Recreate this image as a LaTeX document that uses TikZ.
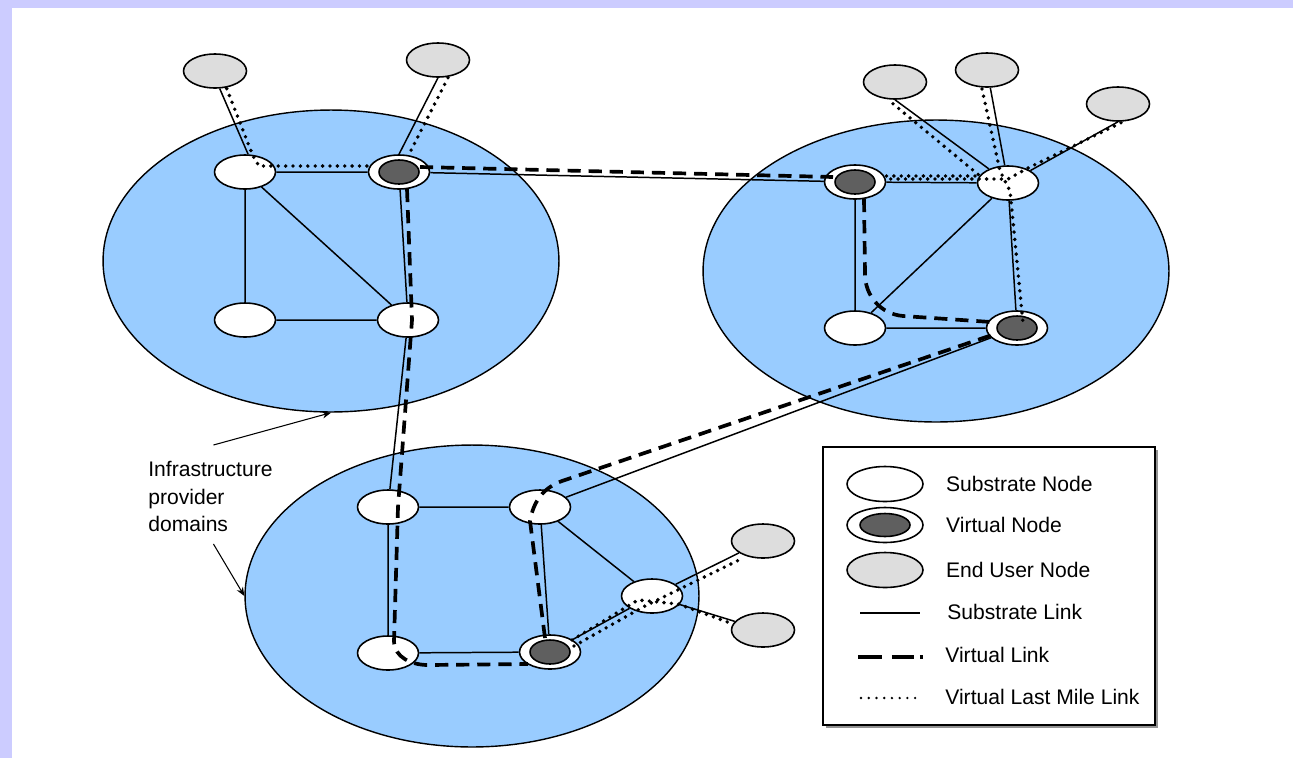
\documentclass[tikz,border=0pt]{standalone}
\usepackage{fontspec}
\setmainfont{Liberation Sans}
\usetikzlibrary{arrows.meta,calc,positioning,shapes.geometric}
\definecolor{provblue}{HTML}{99CCFF}
\definecolor{userfill}{HTML}{DDDDDD}
\definecolor{vdark}{HTML}{5F5F5F}
\definecolor{lavender}{HTML}{CCCCFF}

\begin{document}
\begin{tikzpicture}[x=0.02cm,y=-0.02cm,
  provider/.style={ellipse,draw,fill=provblue,line width=0.8pt,inner sep=0pt,minimum height=6.04cm},
  sub/.style={ellipse,draw,fill=white,line width=0.9pt,inner sep=0pt,minimum width=1.22cm,minimum height=0.68cm},
  virt/.style={sub,path picture={\filldraw[fill=vdark,line width=0.9pt] (path picture bounding box.center) ellipse [x radius=0.4cm,y radius=0.24cm];}},
  lvirt/.style={sub,minimum width=1.52cm,minimum height=0.7cm,path picture={\filldraw[fill=vdark,line width=0.9pt] (path picture bounding box.center) ellipse [x radius=0.5cm,y radius=0.23cm];}},
  user/.style={sub,fill=userfill,minimum width=1.26cm},
  slink/.style={line width=0.85pt},
  vlink/.style={line width=2.1pt,dash pattern=on 7.5pt off 4.5pt},
  lastmile/.style={line width=2.2pt,line cap=round,dash pattern=on 0pt off 4.2pt},
  pointer/.style={line width=0.6pt,-{Stealth[length=5pt,width=4pt]}},
  txt/.style={font=\fontsize{12pt}{15.6pt}\selectfont,inner sep=0pt}]

\useasboundingbox (0,0) rectangle (1293,758);
\fill[white] (0,0) rectangle (1293,758);
\fill[lavender] (0,0) rectangle (1293,8);
\fill[lavender] (0,0) rectangle (12,758);

% provider domains
\node[provider,minimum width=9.12cm] (D1) at (331,261) {};
\node[provider,minimum width=9.32cm] (D2) at (936,271) {};
\node[provider,minimum width=9.08cm] (D3) at (472,596) {};

% nodes
\node[sub]  (A1) at (245,172) {};
\node[virt] (A2) at (399,172) {};
\node[sub]  (A3) at (245,320) {};
\node[sub]  (A4) at (408,320) {};
\node[user] (E1) at (215,71) {};
\node[user] (E2) at (438,60) {};

\node[virt] (B1) at (855,182) {};
\node[sub]  (B2) at (1008,183) {};
\node[sub]  (B3) at (855,328) {};
\node[virt] (B4) at (1017,328) {};
\node[user] (E3) at (895,82) {};
\node[user] (E4) at (987,70) {};
\node[user] (E5) at (1118,104) {};

\node[sub]  (C1) at (388,507) {};
\node[sub]  (C2) at (540,507) {};
\node[sub]  (C3) at (388,653) {};
\node[virt] (C4) at (550,652) {};
\node[sub]  (C5) at (652,596) {};
\node[user] (E6) at (763,541) {};
\node[user] (E7) at (763,630) {};

% substrate links
\draw[slink] (A1) -- (A2) (A1) -- (A3) (A1) -- (A4) (A3) -- (A4) (A2) -- (A4);
\draw[slink] (E1.-75) -- (A1.80) (E2.south) -- (A2.north);
\draw[slink] (A2) -- (B1) (A4) -- (C1) (B4) -- (C2);
\draw[slink] (B1) -- (B2) (B1) -- (B3) (B2) -- (B3) (B2) -- (B4) (B3) -- (B4);
\draw[slink] (E3.south) -- (B2) (E4) -- (B2) (E5.south) -- (B2);
\draw[slink] (C1) -- (C2) (C1) -- (C3) (C2) -- (C4) (C3) -- (C4) (C2) -- (C5) (C4) -- (C5);
\draw[slink] (C5) -- (E6) (C5) -- (E7);

% virtual links
\draw[vlink] ($(A2)+(21,-5)$) -- ($(B1)+(-22,-5)$);
\draw[vlink] ($(A2)+(8,17)$) -- ($(A4)+(4,0)$) -- ($(C1)+(10,0)$) -- ($(C3)+(6,-12)$)
  to[out=-90,in=180] ($(C3)+(40,12)$) -- ($(C4)+(-22,12)$);
\draw[vlink] ($(C4)+(-5,-14)$) -- ($(C2)+(-10,14)$) to[out=80,in=200] ($(C2)+(22,-26)$) -- ($(B4)+(-22,6)$);
\draw[vlink] ($(B1)+(9,17)$) -- ($(B1)+(10,92)$) to[out=-90,in=175] ($(B3)+(48,-12)$) -- ($(B4)+(-26,-6)$);

% virtual last mile links
\draw[lastmile] ($(E1.-75)+(7,0)$) -- ($(A1.80)+(5,2)$) -- ($(A1)+(14,-6)$) -- ($(A2)+(-28,-6)$);
\draw[lastmile] ($(E2.south)+(10,0)$) -- ($(A2.north)+(10,0)$);
\draw[lastmile] ($(E3.south)+(-2,4)$) -- ($(B2)+(-28,-7)$) -- ($(B1)+(30,-6)$);
\draw[lastmile] ($(E4)+(-5,19)$) -- ($(B2)+(-8,-12)$) -- ($(B2)+(2,8)$) -- ($(B4)+(6,-5)$);
\draw[lastmile] ($(E5.south)+(3,1)$) -- ($(B2)+(20,-15)$) -- ($(B2)+(0,-4)$) -- ($(B1)+(30,-3)$);
\draw[lastmile] ($(C4)+(24,-6)$) -- ($(C5)+(-9,11)$) -- ($(E6)+(-20,17)$);
\draw[lastmile] ($(C4)+(22,-12)$) -- ($(C5)+(-14,4)$) -- ($(C5)+(26,8)$) -- ($(E7)+(-30,-6)$);

% legend
\fill[gray!85] (826,450) rectangle (1158,728);
\draw[fill=white,line width=0.9pt] (823,447) rectangle (1155,725);
\node[sub,minimum width=1.52cm,minimum height=0.7cm] (ls) at (885,484) {};
\node[lvirt] (lv) at (885,525) {};
\node[user,minimum width=1.52cm,minimum height=0.7cm] (lu) at (885,570) {};
\node[txt,right=0.44cm of ls] (tls) {Substrate Node};
\node[txt,right=0.44cm of lv] (tlv) {Virtual Node};
\node[txt,right=0.44cm of lu] (tlu) {End User Node};
\node[txt,anchor=west] (tsl) at (947,612) {Substrate Link};
\node[txt,anchor=west] (tvl) at (945,655) {Virtual Link};
\node[txt,anchor=west] (tml) at (945,697) {Virtual Last Mile Link};
\draw[slink] ($(tsl.west)+(-87,1)$) -- ($(tsl.west)+(-27,1)$);
\draw[line width=2.1pt,dash pattern=on 13.6pt off 5.7pt on 12.5pt off 3.4pt on 1.7pt off 5pt]
  ($(tvl.west)+(-87,2)$) -- ($(tvl.west)+(-22,2)$);
\draw[line width=1.5pt,line cap=round,dash pattern=on 0pt off 4.4pt]
  ($(tml.west)+(-84,1)$) -- ($(tml.west)+(-24,1)$);

% label
\node[txt,align=left,anchor=north west] (lbl) at (148,461) {Infrastructure\\provider\\domains};
\draw[pointer] ($(lbl.north)+(3,-16)$) -- (D1.south);
\draw[pointer] ($(lbl.south)+(3,12)$) -- (D3.west);
\end{tikzpicture}
\end{document}
